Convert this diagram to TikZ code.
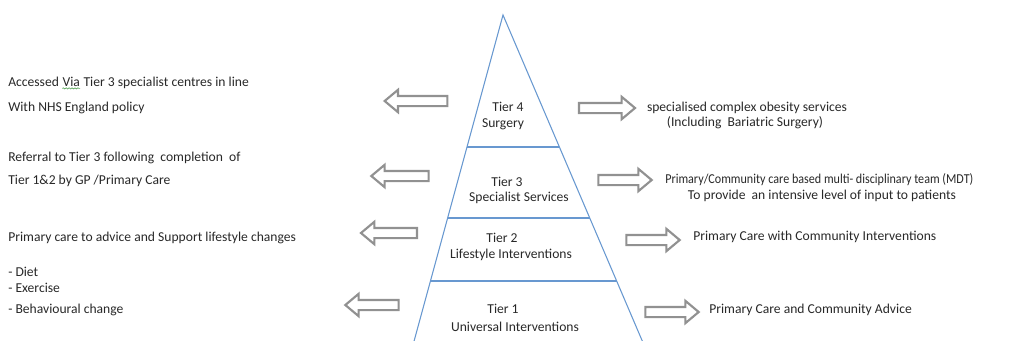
\documentclass[tikz,border=0pt]{standalone}
\usepackage{fontspec}
\setmainfont{Carlito}
\usetikzlibrary{shapes.arrows,calc,decorations.pathmorphing}
\definecolor{tierblue}{RGB}{104,152,208}
\definecolor{arrowgray}{RGB}{145,145,145}
\definecolor{txt}{RGB}{40,40,40}
\definecolor{spellgreen}{RGB}{80,160,80}
\tikzset{
  blockarrow/.style={single arrow, draw=arrowgray, fill=white, line width=1.6pt,
    inner sep=0pt, inner ysep=3pt, single arrow head extend=4.6pt,
    single arrow tip angle=80, anchor=center},
  leftarrow/.style={blockarrow, shape border rotate=180},
  lbl/.style={font=\fontsize{10.2pt}{12pt}\selectfont, text=txt, inner sep=0pt},
  side/.style={draw=tierblue, line width=0.8pt}
}
\newcommand\spellmark[1]{\tikz[baseline=(w.base)]{\node[inner sep=0pt] (w) {#1};
  \draw[spellgreen, line width=0.45pt, decorate, decoration={snake, amplitude=0.45pt, segment length=2.2pt}]
  ([yshift=-1.4pt]w.south west) -- ([yshift=-1.4pt]w.south east);}}
\begin{document}
\begin{tikzpicture}[x=0.75pt,y=-0.75pt]
\useasboundingbox (0,0) rectangle (1014,340);
% pyramid
\coordinate (apex) at (503,15);
\coordinate (bl) at (413,345);
\coordinate (br) at (644,345);
\draw[side] (bl) -- (apex) -- (br);
\coordinate (l4) at ($(apex)!0.4000!(bl)$);
\coordinate (r4) at ($(apex)!0.4000!(br)$);
\coordinate (l3) at ($(apex)!0.6152!(bl)$);
\coordinate (r3) at ($(apex)!0.6152!(br)$);
\coordinate (l2) at ($(apex)!0.8061!(bl)$);
\coordinate (r2) at ($(apex)!0.8061!(br)$);
\draw[side] (l4) -- (r4);
\draw[side] (l3) -- (r3);
\draw[side] (l2) -- (r2);
% tier labels
\node[lbl] (t4a) at (508,107) {Tier 4};
\node[lbl] (t4b) at (503,124) {Surgery};
\node[lbl] (t3a) at (507,182) {Tier 3};
\node[lbl] (t3b) at (519,198) {Specialist Services};
\node[lbl] (t2a) at (502,238) {Tier 2};
\node[lbl] (t2b) at (511,255) {Lifestyle Interventions};
\node[lbl] (t1a) at (503,309) {Tier 1};
\node[lbl] (t1b) at (515,327) {Universal Interventions};
% left arrows
\node[leftarrow, minimum height=47pt] (la4) at (419,101) {};
\node[leftarrow, minimum height=43pt] (la3) at (403,176) {};
\node[leftarrow, minimum height=42pt] (la2) at (392,233) {};
\node[leftarrow, minimum height=40pt] (la1) at (375,305) {};
% right arrows
\node[blockarrow, minimum height=42pt] (ra4) at (604,108) {};
\node[blockarrow, minimum height=40pt] (ra3) at (622,180) {};
\node[blockarrow, minimum height=40pt] (ra2) at (650,240) {};
\node[blockarrow, minimum height=40pt] (ra1) at (669,312) {};
% left texts
\node[lbl, anchor=west] (L1) at (8,83) {Accessed \spellmark{Via} Tier 3 specialist centres in line};
\node[lbl, anchor=west] (L2) at (8,108) {With NHS England policy};
\node[lbl, anchor=west] (L3) at (8,158) {Referral to Tier 3 following\ \ completion\ \ of};
\node[lbl, anchor=west] (L4) at (8,181) {Tier 1\&2 by GP /Primary Care};
\node[lbl, anchor=west] (L5) at (8,238) {Primary care to advice and Support lifestyle changes};
\node[lbl, anchor=west] (L6) at (8,272) {- Diet};
\node[lbl, anchor=west] (L7) at (8,288) {- Exercise};
\node[lbl, anchor=west] (L8) at (8,310) {- Behavioural change};
% right texts
\node[lbl] (R1) at (747,108) {specialised complex obesity services};
\node[lbl] (R2) at (745,123) {(Including\ \ Bariatric Surgery)};
\node[lbl, anchor=west] (R3) at (665,180) {\scalebox{0.89}[1]{Primary/Community care based multi- disciplinary team (MDT)}};
\node[lbl] (R4) at (822,196) {To provide\ \ an intensive level of input to patients};
\node[lbl, anchor=west] (R5) at (693,237) {Primary Care with Community Interventions};
\node[lbl, anchor=west] (R6) at (709,310) {Primary Care and Community Advice};
\end{tikzpicture}
\end{document}
